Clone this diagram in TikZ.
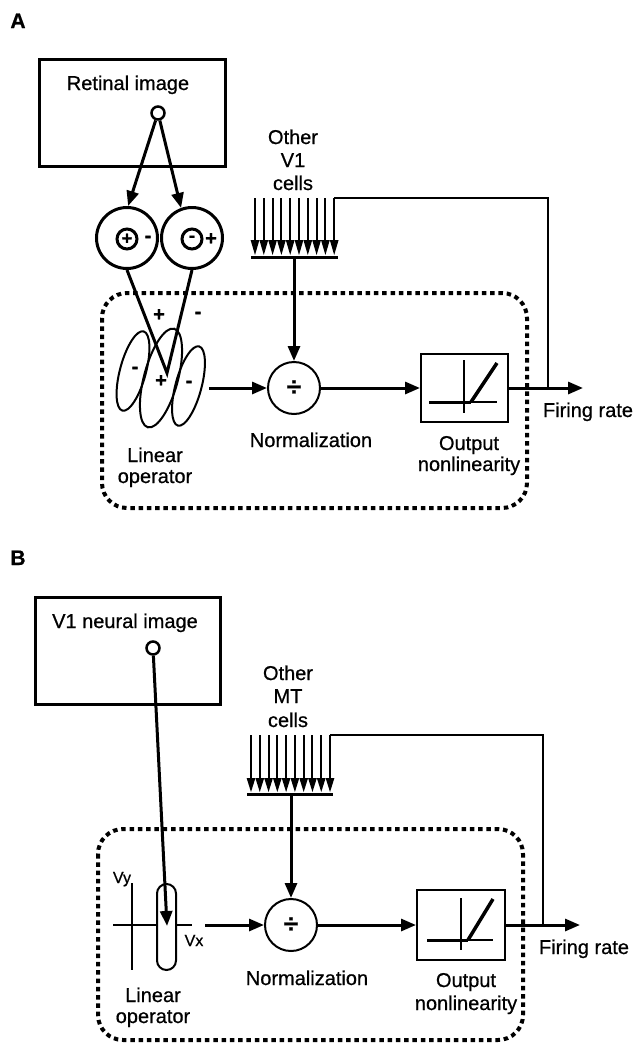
\documentclass[tikz,border=0pt]{standalone}
\usepackage{fontspec}
\setmainfont{Liberation Sans}[FakeBold=0.7]
\usetikzlibrary{arrows.meta}
\begin{document}
\begin{tikzpicture}[x=1pt,y=-1pt,
  lbl/.style={font=\fontsize{20}{22}\selectfont, inner sep=0pt, anchor=base},
  sgn/.style={font=\fontsize{20}{20}\selectfont\bfseries, inner sep=0pt},
  panel/.style={font=\fontsize{21}{21}\selectfont\bfseries, inner sep=0pt, anchor=base},
  arr/.style={line width=3pt, -{Triangle[length=15pt,width=12pt]}},
  thick3/.style={line width=3pt},
  thin2/.style={line width=2pt},
  imgbox/.style={draw, line width=3pt, minimum width=186pt, minimum height=107pt, inner sep=0pt},
  src/.style={draw, circle, line width=2.5pt, minimum size=13pt, inner sep=0pt, fill=white},
  rfc/.style={draw, circle, line width=3pt, minimum size=61pt, inner sep=0pt},
  rfin/.style={draw, circle, line width=3pt, minimum size=20pt, inner sep=0pt, font=\fontsize{18}{18}\selectfont\bfseries},
  normc/.style={draw, circle, line width=2pt, minimum size=52pt, inner sep=0pt, font=\fontsize{26}{26}\selectfont\bfseries},
  opbox/.style={draw, line width=2pt, minimum width=87pt, minimum height=68pt, inner sep=0pt},
  frame/.style={line width=4pt, dash pattern=on 4.5pt off 3.8pt, rounded corners=25pt},
  small/.style={font=\fontsize{16}{16}\selectfont, inner sep=0pt, anchor=base}]
\useasboundingbox (0,0) rectangle (637,1044);

%% ================= Panel A =================
\node[panel] (labA) at (18,28) {A};
\node[imgbox] (retA) at (132,112.5) {};
\node[lbl] (retAt) at (128,90) {Retinal image};
\node[src] (srcA) at (158,113) {};

\node[rfc] (rf1) at (127,238) {};
\node[rfc] (rf2) at (192,238) {};
\node[rfin] (rf1in) at (127,239) {+};
\node[rfin] (rf2in) at (192,239) {\raisebox{1pt}{-}};
\node[sgn] (rf1s) at (148,239) {-};
\node[sgn] (rf2s) at (211,239) {+};
\draw[arr] (srcA) -- (rf1.88);
\draw[arr] (srcA) -- (rf2.110);

% linear operator (receptive field)
\draw[thin2, rotate around={-15:(133,371)}] (133,371) ellipse [x radius=13, y radius=41];
\draw[thin2, rotate around={-15:(161,378)}] (161,378) ellipse [x radius=17, y radius=51];
\draw[thin2, rotate around={-15:(188.5,386)}] (188.5,386) ellipse [x radius=13, y radius=41];
\node[sgn] (e1s) at (135,370) {-};
\node[sgn] (e2s) at (161,381) {+};
\node[sgn] (e3s) at (189,384) {-};
\coordinate (vA) at (167,373);
\draw[thick3] (rf1.south) -- (vA) -- (rf2.south);
\node[sgn] (vpl) at (159,315) {+};
\node[sgn] (vmi) at (198,315) {-};
\node[lbl] (linA1) at (155,462) {Linear};
\node[lbl] (linA2) at (155,483) {operator};

% other V1 cells
\node[lbl] (othA1) at (293,144) {Other};
\node[lbl] (othA2) at (293,167) {V1};
\node[lbl] (othA3) at (293,190) {cells};
\foreach \i in {0,...,9} {
  \draw[thin2] (255+8.8*\i,198) -- (255+8.8*\i,241);
  \fill (255+8.8*\i-4.4,240) -- (255+8.8*\i+4.4,240) -- (255+8.8*\i,255) -- cycle;
}
\draw[thick3] (251,257.5) -- (338,257.5);
\coordinate (barA) at (294,258);
\coordinate (topA) at (334.2,198);

% normalization and output
\coordinate (linA) at (209,388);
\node[normc] (normA) at (294,388) {÷};
\node[lbl] (normAt) at (311,447) {Normalization};
\node[opbox] (opA) at (464.5,388) {};
\draw[thick3] (429,402) -- (471,402);
\draw[thin2] (471,402) -- (497,402);
\draw[thin2] (464,360) -- (464,413);
\draw[line width=3.5pt] (471,402) -- (497,363);
\node[lbl] (opAt1) at (469,450) {Output};
\node[lbl] (opAt2) at (469,471) {nonlinearity};
\coordinate (outA) at (583,388);
\coordinate (fbA) at (548,388);

\draw[arr] (linA) -- (normA);
\draw[arr] (barA) -- (normA);
\draw[arr] (normA) -- (opA.west);
\draw[arr] (opA.east) -- (outA);
\draw[thin2] (topA) -| (fbA);
\node[lbl] (fireA) at (588,417) {Firing rate};

\draw[frame] (102,293) rectangle (527,508);

%% ================= Panel B =================
\node[panel] (labB) at (18,565) {B};
\node[imgbox, minimum width=185pt] (retB) at (127.5,650.5) {};
\node[lbl] (retBt) at (125,628) {V1 neural image};
\node[src] (srcB) at (153,648) {};

% velocity-space linear operator
\draw[thin2] (132,883) -- (132,970);
\draw[thin2] (113,925) -- (192,925);
\node[draw, fill=white, line width=2pt, rounded corners=9.5pt, minimum width=19pt, minimum height=86pt, inner sep=0pt] (capB) at (166.5,927) {};
\node[small] (vy) at (122,883) {Vy};
\node[small] (vx) at (194,946) {Vx};
\coordinate (tipB) at (167,926);
\draw[arr] (srcB) -- (tipB);
\node[lbl] (linB1) at (153,1002) {Linear};
\node[lbl] (linB2) at (153,1023) {operator};

% other MT cells
\node[lbl] (othB1) at (288,680) {Other};
\node[lbl] (othB2) at (288,703) {MT};
\node[lbl] (othB3) at (288,727) {cells};
\foreach \i in {0,...,9} {
  \draw[thin2] (251+8.78*\i,735) -- (251+8.78*\i,779);
  \fill (251+8.78*\i-4.39,778) -- (251+8.78*\i+4.39,778) -- (251+8.78*\i,792) -- cycle;
}
\draw[thick3] (247,794.5) -- (333,794.5);
\coordinate (barB) at (291,795);
\coordinate (topB) at (330,735);

\coordinate (linB) at (205,925);
\node[normc] (normB) at (291,925) {÷};
\node[lbl] (normBt) at (307,985) {Normalization};
\node[opbox, minimum width=88pt, minimum height=70pt] (opB) at (461,925) {};
\draw[thick3] (427,940) -- (468,940);
\draw[thin2] (468,940) -- (493,940);
\draw[thin2] (461,898) -- (461,950);
\draw[line width=3.5pt] (468,940) -- (493,899);
\node[lbl] (opBt1) at (466,987) {Output};
\node[lbl] (opBt2) at (466,1010) {nonlinearity};
\coordinate (outB) at (580,925);
\coordinate (fbB) at (543,925);

\draw[arr] (linB) -- (normB);
\draw[arr] (barB) -- (normB);
\draw[arr] (normB) -- (opB.west);
\draw[arr] (opB.east) -- (outB);
\draw[thin2] (topB) -| (fbB);
\node[lbl] (fireB) at (584,954) {Firing rate};

\draw[frame] (98,829) rectangle (523,1040);
\end{tikzpicture}
\end{document}
